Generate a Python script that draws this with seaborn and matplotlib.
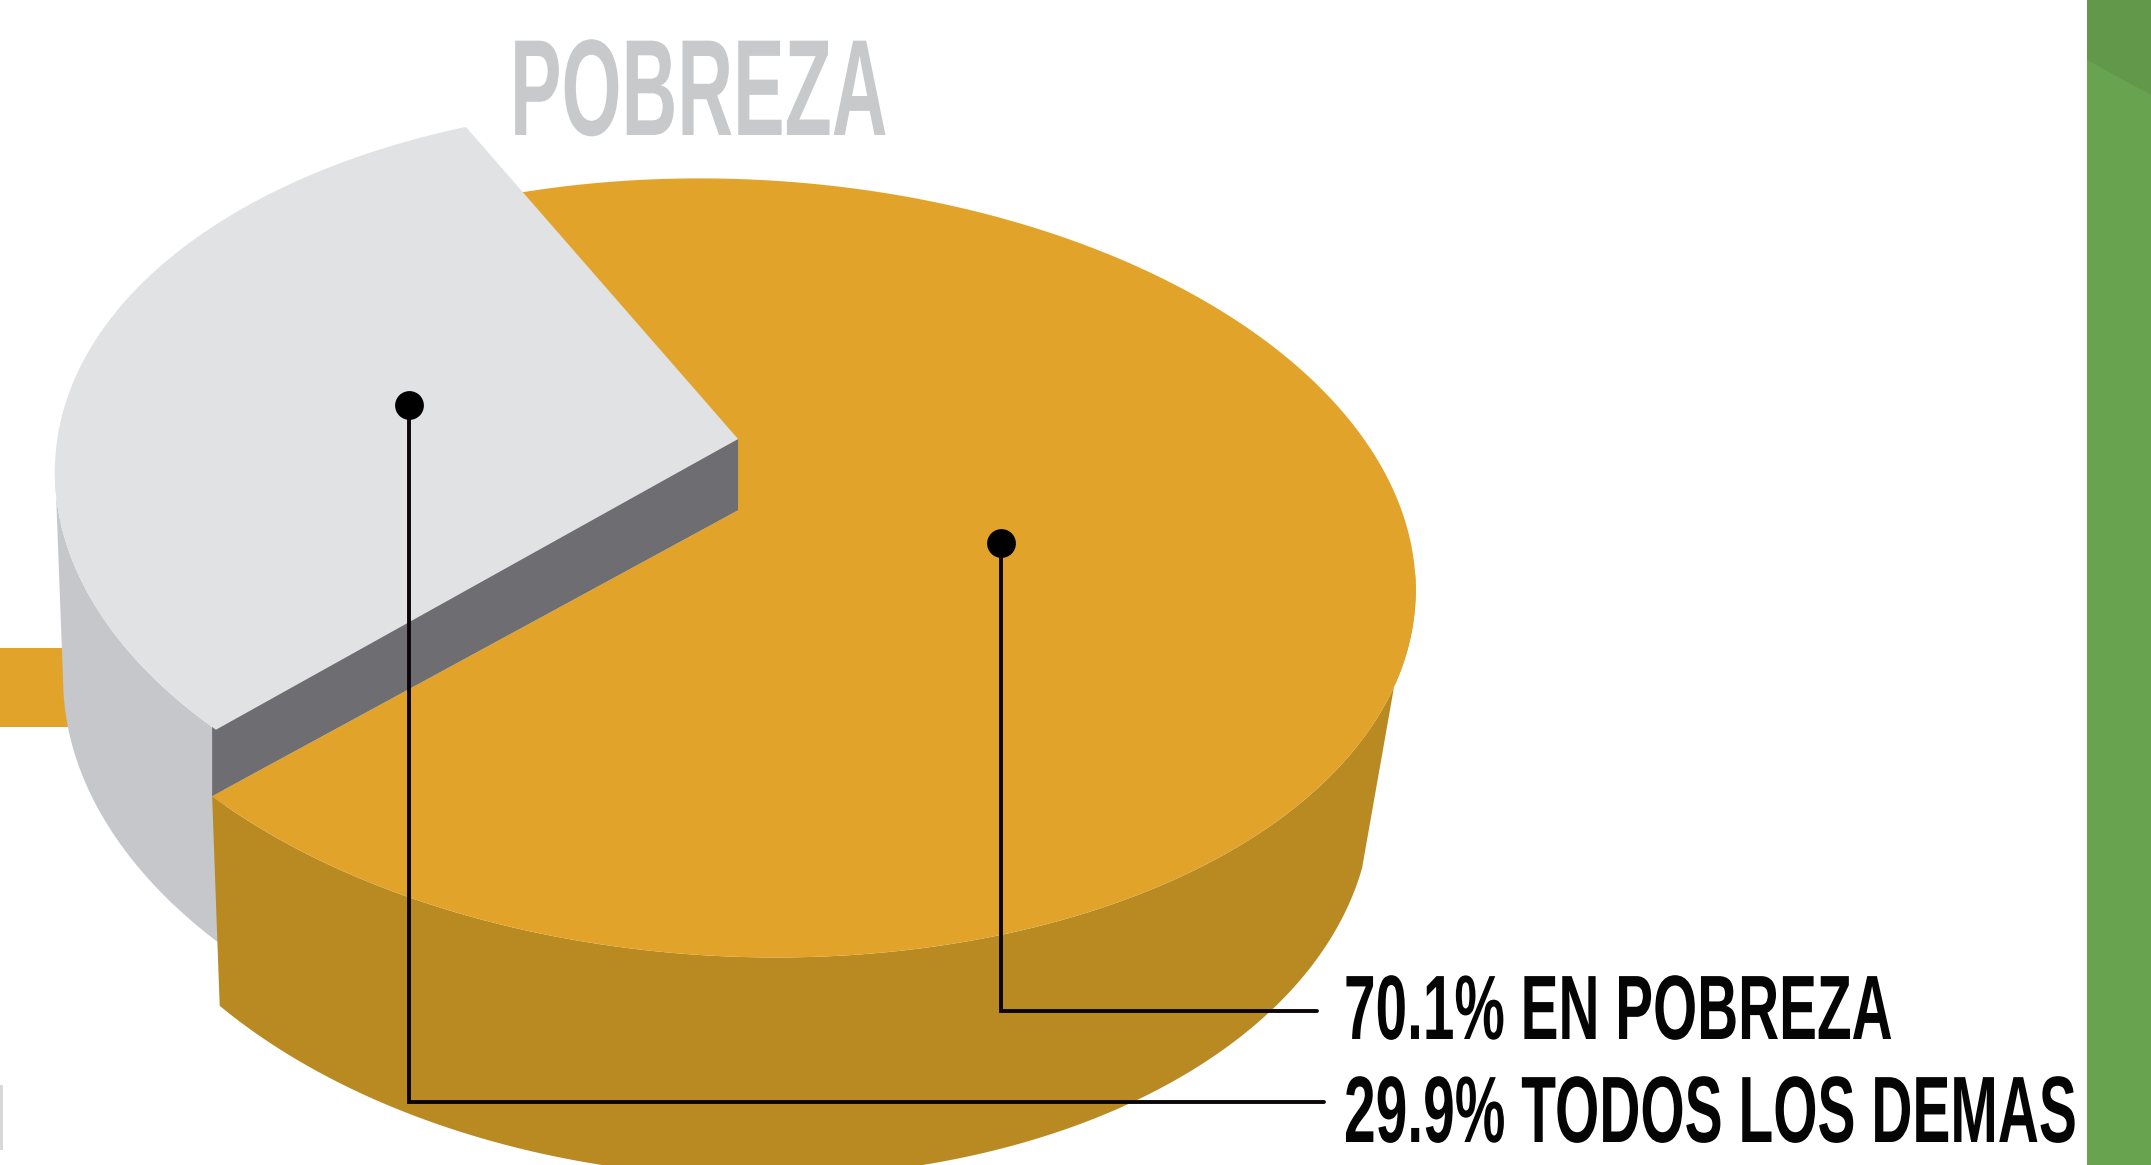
import numpy as np
import matplotlib
matplotlib.use("Agg")
import matplotlib.pyplot as plt
import matplotlib.patheffects as pe
from matplotlib.transforms import Affine2D
import seaborn as sns

sns.set_theme(style="white")
plt.rcParams['font.family'] = ['Liberation Sans Narrow', 'Liberation Sans', 'DejaVu Sans']

# data
title = "POBREZA"
shares = [70.1, 29.9]
labels = ["70.1% EN POBREZA", "29.9% TODOS LOS DEMAS"]

# colours
ORANGE, ORANGE_SIDE = "#E2A32A", "#BA8A22"
GRAY, GRAY_SIDE, GRAY_WALL = "#E1E2E4", "#C6C7CB", "#6E6E72"
GREEN, GREEN_DARK = "#68A44F", "#62984A"

S = 2151 / 1568
W, H = 2151, 1165
fig = plt.figure(figsize=(W / 100, H / 100), dpi=100, facecolor="white")
ax = fig.add_axes([0, 0, 1, 1])
ax.set_xlim(0, W)
ax.set_ylim(H, 0)
ax.axis("off")


def arc(cx, cy, a, c, d, t0, t1, n=200):
    t = np.radians(np.linspace(t0, t1, n))
    return (S * (cx + a * np.cos(t)), S * (cy + c * np.cos(t) + d * np.sin(t)))


def poly(xs, ys, color, z):
    ax.fill(xs, ys, color=color, lw=0, zorder=z)


# pie angles come from the shares
span_gray = 360 * shares[1] / sum(shares)
span_orange = 360 * shares[0] / sum(shares)
o_end = 140.9
o_start = o_end - span_orange
g_start = 139.5
g_end = g_start + span_gray

TOP = dict(cx=538, cy=414, a=494, c=16, d=283.5)
BOT = dict(cx=530, cy=566, a=470, c=16.5, d=292)
GTOP = dict(cx=530, cy=360, a=490, c=16, d=283.5)
GBOT = dict(cx=524, cy=511, a=478, c=16.5, d=292)

# background pieces
ax.fill_between([0, 75], 648, 727, color=ORANGE, lw=0, zorder=1)
ax.fill_between([0, 3], 1085, 1150, color="#D8D8D8", lw=0, zorder=1)
ax.fill_between([2087, 2151], 0, 1165, color=GREEN, lw=0, zorder=1)
ax.fill([2087, 2151, 2151, 2087], [0, 0, 95, 60], color=GREEN_DARK, lw=0, zorder=1.1)

# gray side
tx, ty = arc(**GTOP, t0=g_start, t1=181)
bx, by = arc(**GBOT, t0=g_start - 3, t1=178)
poly(np.r_[tx, bx[::-1]], np.r_[ty, by[::-1]], GRAY_SIDE, 2)

# orange side
tx, ty = arc(**TOP, t0=-3, t1=o_end)
bx, by = arc(**BOT, t0=10, t1=o_end + 1)
poly(np.r_[tx, bx[::-1]], np.r_[ty, by[::-1]], ORANGE_SIDE, 3)

# orange top surface
ox, oy = arc(**TOP, t0=o_start, t1=o_end, n=500)
poly(np.r_[538 * S, ox], np.r_[372 * S, oy], ORANGE, 4)

# gray wall, sharing its lower edge with the orange surface
poly(np.r_[538 * S, 538 * S, ox[-1], ox[-1]], np.r_[320 * S, 372 * S, oy[-1], 528 * S], GRAY_WALL, 5)

# gray top surface
gx, gy = arc(**GTOP, t0=g_start, t1=g_end, n=300)
poly(np.r_[538 * S, gx], np.r_[320 * S, gy], GRAY, 6)

# leader lines
ax.plot(np.array([298, 298, 965]) * S, np.array([295, 803, 803]) * S, color="#0A0508", lw=2.8,
        solid_joinstyle="miter", zorder=7)
ax.plot(np.array([730, 730, 960]) * S, np.array([396, 737, 737]) * S, color="#0A0508", lw=2.8,
        solid_joinstyle="miter", zorder=7)
ax.scatter(np.array([298, 730]) * S, np.array([295, 396]) * S, s=430, color="black", lw=0, zorder=8)


class Stretch(pe.AbstractPathEffect):
    """Stretch a text vertically about its baseline (display pixels)."""

    def __init__(self, sy, y0):
        super().__init__()
        self.sy, self.y0 = sy, y0

    def draw_path(self, renderer, gc, tpath, affine, rgbFace=None):
        tr = affine + Affine2D().translate(0, -self.y0).scale(1, self.sy).translate(0, self.y0)
        renderer.draw_path(gc, tpath, tr, rgbFace)


def label(s, x0, x1, base, cap_px, color):
    t = ax.text(x0, base, s, fontsize=40, fontweight="bold", color=color, ha="left", va="baseline", zorder=9)
    r = fig.canvas.get_renderer()
    size = 40 * (x1 - x0) / t.get_window_extent(r).width
    t.set_fontsize(size)
    natural_cap = 0.70 * size * 100 / 72
    t.set_path_effects([Stretch(cap_px / natural_cap, H - base)])
    return t


label(title, 510, 887, 135, 96, "#C8C9CB")
label(labels[0], 1344, 1892, 1039, 64, "#050505")
label(labels[1], 1344, 2076, 1142, 66, "#050505")

fig.savefig("out.png", dpi=100, facecolor="white")
